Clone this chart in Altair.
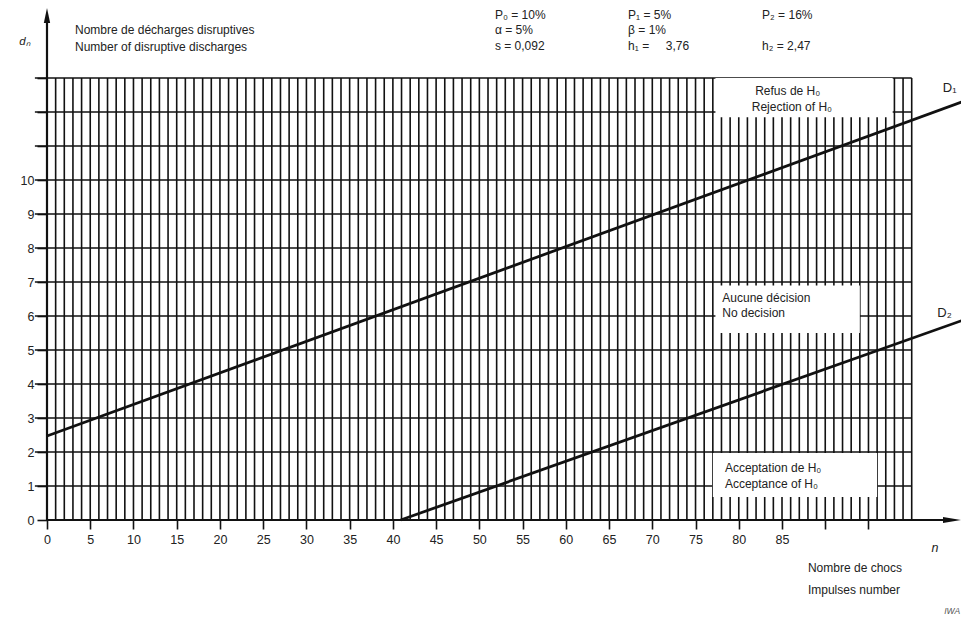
import altair as alt
import pandas as pd

# ---------------- data ----------------
# decision lines D1 (rejection limit) and D2 (acceptance limit): (n, d) end points
D1_n = [0.0, 106.4]
D1_d = [2.47, 12.35]
D2_n = [40.9, 106.4]
D2_d = [0.0, 5.92]

x_tick_values = list(range(0, 100, 5))
x_tick_labels = [str(v) for v in range(0, 90, 5)]
y_tick_values = list(range(0, 14))
y_tick_labels = [str(v) for v in range(0, 11)]

grid_n = list(range(1, 101))   # vertical grid lines (every impulse)
grid_d = list(range(1, 14))    # horizontal grid lines (every discharge)

header_lines = ["Nombre de décharges disruptives", "Number of disruptive discharges"]
param_texts = ["P₀ = 10%", "P₁ = 5%", "P₂ = 16%",
               "α = 5%", "β = 1%",
               "s = 0,092", "h₁ =\u00a0\u00a0\u00a0\u00a0\u00a03,76", "h₂ = 2,47"]
region_texts = ["Refus de H₀", "Rejection of H₀",
                "Aucune décision", "No decision",
                "Acceptation de H₀", "Acceptance of H₀"]
x_title_lines = ["Nombre de chocs", "Impulses number"]

# ---------------- layout (data units) ----------------
X_DOM = [0, 105.7]
Y_DOM = [0, 15.06]
FONT = "Liberation Sans"
INK = "#111111"

xs = alt.Scale(domain=X_DOM, nice=False, zero=False)
ys = alt.Scale(domain=Y_DOM, nice=False, zero=False)

xlab_set = "[" + ",".join(f"'{l}'" for l in x_tick_labels) + "]"
ylab_set = "[" + ",".join(f"'{l}'" for l in y_tick_labels) + "]"

x_axis = alt.Axis(values=x_tick_values, labelExpr=f"indexof({xlab_set}, datum.label) >= 0 ? datum.label : ''",
                  tickSize=9, tickWidth=1.6, tickColor=INK, domain=False, grid=False, title=None,
                  labelFont=FONT, labelFontSize=12.5, labelColor="#222", labelPadding=4,
                  labelFlush=False, labelOverlap=False)
y_axis = alt.Axis(values=y_tick_values, labelExpr=f"indexof({ylab_set}, datum.label) >= 0 ? datum.label : ''",
                  tickSize=10, tickWidth=1.6, tickColor=INK, domain=False, grid=False, title=None,
                  labelFont=FONT, labelFontSize=12.5, labelColor="#222", labelPadding=3,
                  labelOverlap=False)


def X(field="n"):
    return alt.X(f"{field}:Q", scale=xs, axis=x_axis, title=None)


def Y(field="d"):
    return alt.Y(f"{field}:Q", scale=ys, axis=y_axis, title=None)


# grid
vgrid = alt.Chart(pd.DataFrame({"n": grid_n, "d": 0.0, "d2": 13.0})).mark_rule(
    color=INK, strokeWidth=1.6).encode(x=X(), y=Y(), y2="d2:Q")
hgrid = alt.Chart(pd.DataFrame({"d": grid_d, "n": -1.4, "n2": 100.0})).mark_rule(
    color=INK, strokeWidth=1.6).encode(x=X(), x2="n2:Q", y=Y())

# white label boxes
boxes = alt.Chart(pd.DataFrame({
    "n": [77.3, 77.3, 77.0],
    "n2": [97.8, 94.0, 96.0],
    "d": [11.85, 5.5, 0.68],
    "d2": [13.0, 6.9, 1.97],
})).mark_rect(color="white").encode(x=X(), x2="n2:Q", y=Y(), y2="d2:Q")

# axis lines
axes_df = pd.DataFrame({"n": [0.0, 0.0], "n2": [0.0, 104.0], "d": [0.0, 0.0], "d2": [14.7, 0.0]})
axis_lines = alt.Chart(axes_df).mark_rule(color=INK, strokeWidth=2.2).encode(
    x=X(), x2="n2:Q", y=Y(), y2="d2:Q")

y_arrow = alt.Chart(pd.DataFrame({"n": [0.0], "d": [14.84]})).mark_point(
    shape="M0,-1 L0.42,1 L-0.42,1 Z", size=225, filled=True, color=INK, opacity=1).encode(x=X(), y=Y())
x_arrow = alt.Chart(pd.DataFrame({"n": [104.66], "d": [0.0]})).mark_point(
    shape="M1,0 L-1,0.33 L-1,-0.33 Z", size=324, filled=True, color=INK, opacity=1).encode(x=X(), y=Y())

# decision lines
lines_df = pd.DataFrame({
    "n": D1_n + D2_n,
    "d": D1_d + D2_d,
    "line": ["D1", "D1", "D2", "D2"],
})
dlines = alt.Chart(lines_df).mark_line(color=INK, strokeWidth=2.8).encode(
    x=X(), y=Y(), detail="line:N")


def text_layer(texts, ns, ds, size=12.0, align="left", style="normal", color="#222"):
    df = pd.DataFrame({"t": texts, "n": ns, "d": ds})
    return alt.Chart(df).mark_text(align=align, baseline="middle", font=FONT, fontSize=size,
                                   fontStyle=style, color=color).encode(x=X(), y=Y(), text="t:N")


header = text_layer(header_lines, [3.24, 3.24], [14.41, 13.91])
params = text_layer(param_texts,
                    [51.8, 67.2, 82.7, 51.8, 67.2, 51.8, 67.2, 82.7],
                    [14.85, 14.85, 14.85, 14.41, 14.41, 13.94, 13.94, 13.94])
regions = text_layer(region_texts,
                     [81.9, 81.5, 78.1, 78.1, 78.4, 78.4],
                     [12.62, 12.15, 6.53, 6.09, 1.53, 1.06])
xtitle = text_layer(x_title_lines, [88.0, 88.0], [-1.41, -2.06])
dn_label = text_layer(["dₙ"], [-3.2], [14.06], size=11.5, style="italic")
n_label = text_layer(["n"], [102.7], [-0.82], size=12.5, style="italic", align="center")
d_labels = text_layer(["D₁", "D₂"], [104.4, 103.8], [12.72, 6.08], size=13, align="center")
ref_code = text_layer(["IWA"], [105.6], [-2.68], size=8.5, style="italic", align="right", color="#555")

chart = alt.layer(
    vgrid, hgrid, boxes, axis_lines, dlines, y_arrow, x_arrow,
    header, params, regions, xtitle, dn_label, n_label, d_labels, ref_code,
).properties(
    width=914, height=512,
    autosize=alt.AutoSizeParams(type="none"),
    padding={"left": 39, "top": 0, "right": 0, "bottom": 97},
    background="white",
).configure_view(stroke=None)

chart.save("out.html", embed_options={"renderer": "svg", "actions": False})
